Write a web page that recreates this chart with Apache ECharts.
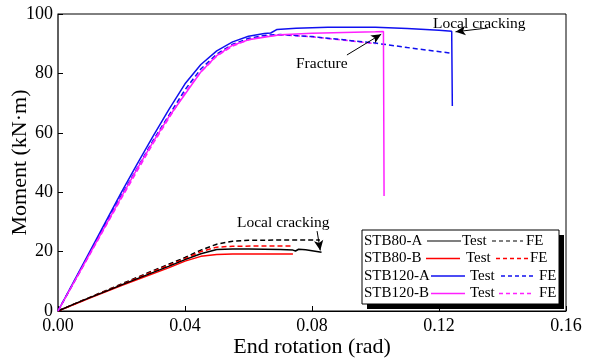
<!DOCTYPE html>
<html><head><meta charset="utf-8">
<script src="https://cdn.jsdelivr.net/npm/echarts@6/dist/echarts.min.js"></script>
<style>html,body{margin:0;padding:0;background:#fff}#c{width:594px;height:364px}</style>
</head><body><div id="c"></div>
<script>
var xTicks = [0, 0.04, 0.08, 0.12, 0.16];
var yTicks = [0, 20, 40, 60, 80, 100];

var stb80A_test = [[0,0],[0.005,2.3],[0.01,4.5],[0.015,6.6],[0.02,8.8],[0.025,10.9],[0.03,13.0],[0.035,15.1],[0.04,17.3],[0.045,19.3],[0.05,20.7],[0.055,20.9],[0.06,20.9],[0.065,20.8],[0.07,20.7],[0.074,20.5],[0.0748,20.2],[0.0758,20.8],[0.078,20.6],[0.08,20.3],[0.083,19.8]];
var stb80A_fe = [[0,0],[0.01,4.6],[0.02,9.1],[0.03,13.6],[0.04,18],[0.045,20.5],[0.05,22.5],[0.055,23.5],[0.06,23.8],[0.07,23.9],[0.0825,23.9]];
var stb80B_test = [[0,0],[0.01,4.4],[0.02,8.6],[0.03,12.6],[0.035,14.6],[0.04,16.8],[0.045,18.4],[0.05,19.0],[0.055,19.2],[0.06,19.2],[0.07,19.2],[0.074,19.2]];
var stb80B_fe = [[0,0],[0.01,4.5],[0.02,8.9],[0.03,13.3],[0.04,17.6],[0.045,20],[0.05,21.5],[0.055,21.8],[0.065,21.9],[0.074,21.9]];
var stb120A_test = [[0,0],[0.005,10],[0.01,20],[0.015,30],[0.02,40],[0.025,49.6],[0.03,59],[0.035,68],[0.04,76.5],[0.045,83],[0.05,87.6],[0.055,90.6],[0.06,92.5],[0.065,93.4],[0.067,93.6],[0.069,94.8],[0.075,95.2],[0.085,95.5],[0.1,95.5],[0.11,95.1],[0.12,94.5],[0.124,94.2],[0.1242,69]];
var stb120A_fe = [[0,0],[0.01,19.5],[0.02,39],[0.03,57.5],[0.04,74.5],[0.045,81.5],[0.05,86.5],[0.055,89.8],[0.06,91.8],[0.065,92.8],[0.07,93.1],[0.08,92.4],[0.09,91.3],[0.1,90.2],[0.11,88.7],[0.124,86.8]];
var stb120B_test = [[0,0],[0.005,9.6],[0.01,19.2],[0.015,28.8],[0.02,38.5],[0.025,48],[0.03,57],[0.035,65.5],[0.04,73],[0.045,80.5],[0.05,86],[0.055,89.5],[0.06,91.3],[0.065,92.2],[0.07,93],[0.08,93.5],[0.09,93.8],[0.1,94],[0.1025,94.1],[0.1027,38.7]];
var stb120B_fe = [[0,0],[0.01,19],[0.02,38],[0.03,56.5],[0.04,73.5],[0.045,80.5],[0.05,85.8],[0.055,89.2],[0.06,91.3],[0.065,92.5],[0.07,93],[0.08,92.3],[0.09,91.2],[0.1,90]];

var specimens = ['STB80-A','STB80-B','STB120-A','STB120-B'];
var colors = ['#000000','#ff0000','#1010f0','#ff20ff'];

var FONT = 'Liberation Serif';
var chart = echarts.init(document.getElementById('c'));

function line(name, data, color, dashed, z) {
  return {name:name, type:'line', data:data, showSymbol:false, symbol:'none', z:z||2,
    lineStyle:{color:color, width:1.5, type: dashed ? [5,3] : 'solid'}, animation:false};
}

var series = [
  line('STB80-A FE', stb80A_fe, colors[0], true),
  line('STB80-B FE', stb80B_fe, colors[1], true),
  line('STB80-B Test', stb80B_test, colors[1], false),
  line('STB80-A Test', stb80A_test, colors[0], false),
  line('STB120-B FE', stb120B_fe, colors[3], true),
  line('STB120-A FE', stb120A_fe, colors[2], true),
  line('STB120-A Test', stb120A_test, colors[2], false),
  line('STB120-B Test', stb120B_test, colors[3], false)
];

series.push({type:'line', data:[], markLine:{silent:true, animation:false, symbol:['none','arrow'], symbolSize:[7,10],
  lineStyle:{color:'#000', width:1, type:'solid'}, label:{show:false},
  data:[
    [{coord:[0.1354,95.3]},{coord:[0.1252,94.0]}],
    [{coord:[0.091,86.2]},{coord:[0.1018,93.2]}],
    [{coord:[0.0816,26.9]},{coord:[0.0826,20.4]}]
  ]}});

var lg = [];
var bx = 362, by = 230, bw = 197, bh = 74;
lg.push({type:'rect', shape:{x:bx+5, y:by+5, width:bw, height:bh}, style:{fill:'#000'}, z:100});
lg.push({type:'rect', shape:{x:bx, y:by, width:bw, height:bh}, style:{fill:'#fff', stroke:'#000', lineWidth:1}, z:101});
var rows = [
  {y:241, l:[427,461], t:462, d:[492,523], f:526},
  {y:258.5, l:[426,460], t:466, d:[496,528], f:530},
  {y:276, l:[431,465], t:470, d:[501,533], f:539},
  {y:293.5, l:[431,465], t:470, d:[499,532], f:539}
];
rows.forEach(function(r,i){
  var c = i===0 ? '#555' : colors[i];
  lg.push({type:'text', x:364, y:r.y, style:{text:specimens[i], font:'15px "'+FONT+'"', fill:'#000', verticalAlign:'middle'}, z:102});
  lg.push({type:'line', shape:{x1:r.l[0], y1:r.y, x2:r.l[1], y2:r.y}, style:{stroke:c, lineWidth:1.5}, z:102});
  lg.push({type:'text', x:r.t, y:r.y, style:{text:'Test', font:'15px "'+FONT+'"', fill:'#000', verticalAlign:'middle'}, z:102});
  lg.push({type:'line', shape:{x1:r.d[0], y1:r.y, x2:r.d[1], y2:r.y}, style:{stroke:c, lineWidth:1.5, lineDash:[4,3]}, z:102});
  lg.push({type:'text', x:r.f, y:r.y, style:{text:'FE', font:'15px "'+FONT+'"', fill:'#000', verticalAlign:'middle'}, z:102});
});
lg.push({type:'text', x:433, y:24, style:{text:'Local cracking', font:'15.5px "'+FONT+'"', fill:'#000', verticalAlign:'middle'}, z:102});
lg.push({type:'text', x:296, y:64, style:{text:'Fracture', font:'15.5px "'+FONT+'"', fill:'#000', verticalAlign:'middle'}, z:102});
lg.push({type:'text', x:237, y:223, style:{text:'Local cracking', font:'15.5px "'+FONT+'"', fill:'#000', verticalAlign:'middle'}, z:102});

chart.setOption({
  animation:false,
  backgroundColor:'#fff',
  grid:{left:58, right:28, top:14, bottom:53, show:true, borderColor:'#000', borderWidth:1, containLabel:false, outerBoundsMode:'none'},
  xAxis:{type:'value', min:xTicks[0], max:xTicks[xTicks.length-1], interval:0.04,
    name:'End rotation (rad)', nameLocation:'middle', nameGap:25, nameMoveOverlap:false,
    nameTextStyle:{fontFamily:FONT, fontSize:22, color:'#000'},
    axisLine:{show:true, lineStyle:{color:'#000', width:1}},
    axisTick:{show:true, inside:true, length:5, lineStyle:{color:'#000'}},
    axisLabel:{fontFamily:FONT, fontSize:18, color:'#000', margin:6, formatter:function(v){return v.toFixed(2);}},
    splitLine:{show:false}},
  yAxis:{type:'value', min:yTicks[0], max:yTicks[yTicks.length-1], interval:20,
    name:'Moment (kN·m)', nameLocation:'middle', nameGap:27, nameMoveOverlap:false,
    nameTextStyle:{fontFamily:FONT, fontSize:22, color:'#000'},
    axisLine:{show:true, lineStyle:{color:'#555', width:1.5}},
    axisTick:{show:true, inside:true, length:5, lineStyle:{color:'#000'}},
    axisLabel:{fontFamily:FONT, fontSize:18, color:'#000', margin:5},
    splitLine:{show:false}},
  series:series,
  graphic:lg
});
</script></body></html>
